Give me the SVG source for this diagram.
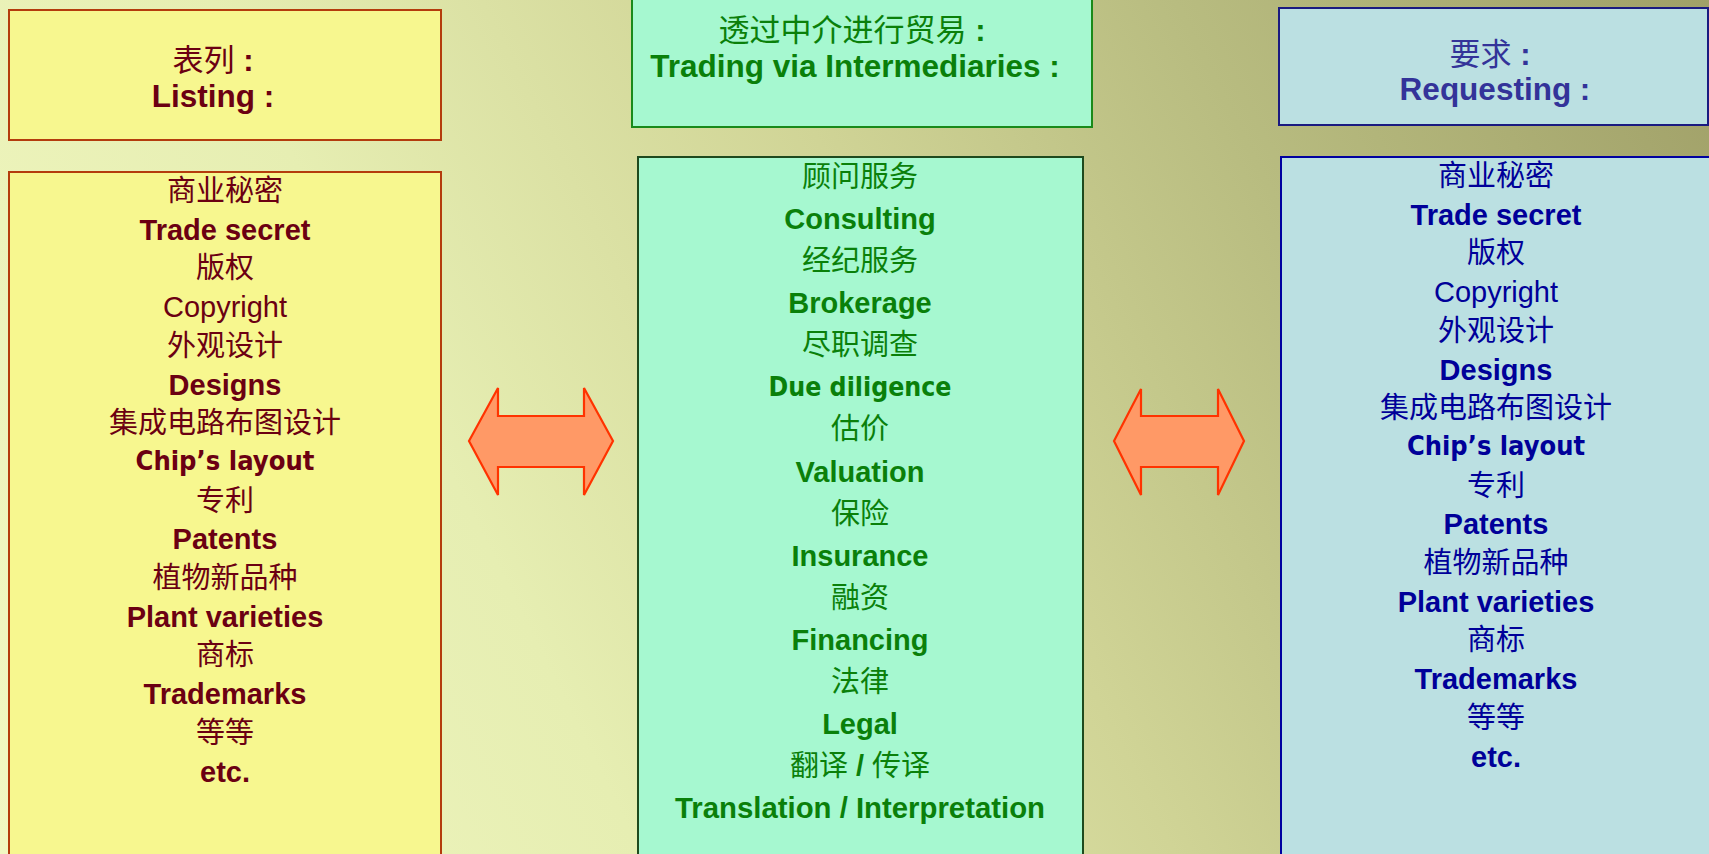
<svg xmlns="http://www.w3.org/2000/svg" width="1709" height="854" viewBox="0 0 1709 854">
<defs>
<linearGradient id="bg" gradientUnits="userSpaceOnUse" x1="0" y1="854" x2="1709" y2="0">
<stop offset="0" stop-color="#f2f8c2"/>
<stop offset="0.3" stop-color="#e6eeb2"/>
<stop offset="0.55" stop-color="#d0d496"/>
<stop offset="0.75" stop-color="#b8bc80"/>
<stop offset="1" stop-color="#a0a068"/>
</linearGradient>
</defs>
<style>
.en{font-family:"Liberation Sans",Arial,sans-serif;font-weight:bold;font-size:29px;text-anchor:middle}
.enr{font-family:"Liberation Sans",Arial,sans-serif;font-weight:normal;font-size:29px;text-anchor:middle}
.ta{font-family:"DejaVu Sans","Liberation Sans",sans-serif;font-weight:bold;font-size:26px;text-anchor:middle}
.zh{font-family:"Liberation Sans","Noto Sans CJK SC",sans-serif;font-size:29px;text-anchor:middle}
.hzh{font-family:"Liberation Sans","Noto Sans CJK SC",sans-serif;font-size:31px;text-anchor:middle}
.hen{font-family:"Liberation Sans",Arial,sans-serif;font-weight:bold;font-size:31.5px;text-anchor:middle}
.b{font-weight:bold}
.maroon{fill:#6b0012}
.green{fill:#0a800a}
.navy{fill:#000099}
.hnavy{fill:#333399}
.arrow{fill:#ff9966;stroke:#ff3300;stroke-width:2.2;stroke-linejoin:miter}
</style>
<rect x="0" y="0" width="1709" height="854" fill="url(#bg)"/>

<g id="listing-header">
<rect x="9" y="10" width="432" height="130" fill="#f7f78f" stroke="#b43c0c" stroke-width="2"/>
<text class="hzh maroon" x="213" y="71">表列 <tspan class="b">:</tspan></text>
<text class="hen maroon" x="213" y="107">Listing :</text>
</g>

<g id="listing-body">
<rect x="9" y="172" width="432" height="700" fill="#f7f78f" stroke="#b43c0c" stroke-width="2"/>
<text class="zh maroon" x="225" y="201">商业秘密</text>
<text class="en maroon" x="225" y="239.7">Trade secret</text>
<text class="zh maroon" x="225" y="278.4">版权</text>
<text class="enr maroon" x="225" y="317.1">Copyright</text>
<text class="zh maroon" x="225" y="355.8">外观设计</text>
<text class="en maroon" x="225" y="394.5">Designs</text>
<text class="zh maroon" x="225" y="433.2">集成电路布图设计</text>
<text class="ta maroon" x="225" y="470" textLength="179" lengthAdjust="spacingAndGlyphs">Chip’s layout</text>
<text class="zh maroon" x="225" y="510.6">专利</text>
<text class="en maroon" x="225" y="549.3">Patents</text>
<text class="zh maroon" x="225" y="588">植物新品种</text>
<text class="en maroon" x="225" y="626.7">Plant varieties</text>
<text class="zh maroon" x="225" y="665.4">商标</text>
<text class="en maroon" x="225" y="704.1">Trademarks</text>
<text class="zh maroon" x="225" y="742.8">等等</text>
<text class="en maroon" x="225" y="781.5">etc.</text>
</g>

<g id="intermediaries-header">
<rect x="632" y="-5" width="460" height="132" fill="#a6f8d0" stroke="#1a8a1a" stroke-width="2"/>
<text class="hzh green" x="852" y="41">透过中介进行贸易 <tspan class="b">:</tspan></text>
<text class="hen green" x="855" y="77">Trading via Intermediaries :</text>
</g>

<g id="intermediaries-body">
<rect x="638" y="157" width="445" height="720" fill="#a6f8d0" stroke="#1e4a1e" stroke-width="2"/>
<text class="zh green" x="860" y="187">顾问服务</text>
<text class="en green" x="860" y="229.1">Consulting</text>
<text class="zh green" x="860" y="271.1">经纪服务</text>
<text class="en green" x="860" y="313.2">Brokerage</text>
<text class="zh green" x="860" y="355.3">尽职调查</text>
<text class="ta green" x="860" y="396" textLength="183" lengthAdjust="spacingAndGlyphs">Due diligence</text>
<text class="zh green" x="860" y="439.4">估价</text>
<text class="en green" x="860" y="481.5">Valuation</text>
<text class="zh green" x="860" y="523.6">保险</text>
<text class="en green" x="860" y="565.6">Insurance</text>
<text class="zh green" x="860" y="607.7">融资</text>
<text class="en green" x="860" y="649.8">Financing</text>
<text class="zh green" x="860" y="691.8">法律</text>
<text class="en green" x="860" y="733.9">Legal</text>
<text class="zh green" x="860" y="776">翻译 <tspan class="b">/</tspan> 传译</text>
<text class="en green" x="860" y="818" textLength="370" lengthAdjust="spacingAndGlyphs">Translation / Interpretation</text>
</g>

<g id="requesting-header">
<rect x="1279" y="8" width="429" height="117" fill="#bbe0e2" stroke="#1a1a80" stroke-width="2"/>
<text class="hzh hnavy" x="1490" y="65">要求 <tspan class="b">:</tspan></text>
<text class="hen hnavy" x="1495" y="100">Requesting :</text>
</g>

<g id="requesting-body">
<rect x="1281" y="157" width="440" height="720" fill="#bbe0e2" stroke="#0000a0" stroke-width="2"/>
<text class="zh navy" x="1496" y="186">商业秘密</text>
<text class="en navy" x="1496" y="224.7">Trade secret</text>
<text class="zh navy" x="1496" y="263.4">版权</text>
<text class="enr navy" x="1496" y="302.1">Copyright</text>
<text class="zh navy" x="1496" y="340.8">外观设计</text>
<text class="en navy" x="1496" y="379.5">Designs</text>
<text class="zh navy" x="1496" y="418.2">集成电路布图设计</text>
<text class="ta navy" x="1496" y="455" textLength="178" lengthAdjust="spacingAndGlyphs">Chip’s layout</text>
<text class="zh navy" x="1496" y="495.6">专利</text>
<text class="en navy" x="1496" y="534.3">Patents</text>
<text class="zh navy" x="1496" y="573">植物新品种</text>
<text class="en navy" x="1496" y="611.7">Plant varieties</text>
<text class="zh navy" x="1496" y="650.4">商标</text>
<text class="en navy" x="1496" y="689.1">Trademarks</text>
<text class="zh navy" x="1496" y="727.8">等等</text>
<text class="en navy" x="1496" y="766.5">etc.</text>
</g>

<g id="connectors">
<polygon class="arrow" points="469,441 498,388 498,416 584,416 584,388 613,441 584,495 584,467 498,467 498,495"/>
<polygon class="arrow" points="1114,441 1141,389 1141,416 1218,416 1218,389 1244,441 1218,495 1218,467 1141,467 1141,495"/>
</g>
</svg>
